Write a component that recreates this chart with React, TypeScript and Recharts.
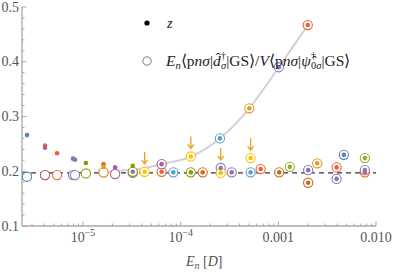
import React from 'react'
import { ScatterChart, Scatter, XAxis, YAxis, ReferenceLine } from 'recharts'

type Pt = { E: number; z: number; r: number }

// axis ranges and ticks
const xDomain = [2.37e-6, 0.01]
const yDomain = [0.1, 0.5]
const xMajorTicks = [1e-5, 1e-4, 1e-3, 1e-2]
const xTickLabels = [['10', '\u22125'], ['10', '\u22124'], ['0.001', ''], ['0.010', '']]
const xMinorTicks = [
  3e-6, 4e-6, 5e-6, 6e-6, 7e-6, 8e-6, 9e-6,
  2e-5, 3e-5, 4e-5, 5e-5, 6e-5, 7e-5, 8e-5, 9e-5,
  2e-4, 3e-4, 4e-4, 5e-4, 6e-4, 7e-4, 8e-4, 9e-4,
  2e-3, 3e-3, 4e-3, 5e-3, 6e-3, 7e-3, 8e-3, 9e-3,
]
const yMajorTicks = [0.1, 0.2, 0.3, 0.4, 0.5]
const yTickLabels = ['0.1', '0.2', '0.3', '0.4', '0.5']
const yMinorTicks = [
  0.12, 0.14, 0.16, 0.18, 0.22, 0.24, 0.26, 0.28,
  0.32, 0.34, 0.36, 0.38, 0.42, 0.44, 0.46, 0.48,
]

const plateau = 0.197

// E, z (filled dot), ratio (open circle)
const blue: Pt[] = [
  { E: 2.67e-6, z: 0.266, r: 0.19 },
  { E: 7.9e-6, z: 0.223, r: 0.193 },
  { E: 4.69e-3, z: 0.23, r: 0.23 },
]
const lightBlue: Pt[] = [
  { E: 8.4e-5, z: 0.198, r: 0.198 },
  { E: 2.52e-4, z: 0.26, r: 0.26 },
  { E: 5.2e-4, z: 0.198, r: 0.198 },
]
const red: Pt[] = [
  { E: 4.08e-6, z: 0.247, r: 0.193 },
  { E: 5.42e-6, z: 0.233, r: 0.193 },
  { E: 1.62e-5, z: 0.213, r: 0.198 },
  { E: 6.38e-5, z: 0.199, r: 0.199 },
  { E: 6.59e-4, z: 0.204, r: 0.204 },
  { E: 2.0e-3, z: 0.467, r: 0.467 },
  { E: 3.95e-3, z: 0.207, r: 0.207 },
  { E: 7.69e-3, z: 0.198, r: 0.198 },
]
const purple: Pt[] = [
  { E: 8.28e-6, z: 0.221, r: 0.193 },
  { E: 3.23e-5, z: 0.199, r: 0.197 },
  { E: 2.57e-4, z: 0.206, r: 0.206 },
  { E: 3.33e-4, z: 0.198, r: 0.198 },
  { E: 1.01e-3, z: 0.39, r: 0.39 },
  { E: 2.02e-3, z: 0.202, r: 0.202 },
  { E: 3.95e-3, z: 0.186, r: 0.186 },
  { E: 7.69e-3, z: 0.202, r: 0.202 },
]
const magenta: Pt[] = [
  { E: 4.08e-6, z: 0.243, r: 0.193 },
  { E: 2.13e-5, z: 0.207, r: 0.195 },
  { E: 6.38e-5, z: 0.213, r: 0.213 },
]
const orange: Pt[] = [
  { E: 1.62e-5, z: 0.208, r: 0.198 },
  { E: 5.04e-4, z: 0.315, r: 0.315 },
  { E: 2.5e-3, z: 0.2145, r: 0.2145 },
]
const olive: Pt[] = [
  { E: 1.07e-5, z: 0.215, r: 0.196 },
  { E: 3.23e-5, z: 0.21, r: 0.199 },
  { E: 1.27e-4, z: 0.198, r: 0.198 },
]
const green: Pt[] = [
  { E: 1.31e-3, z: 0.208, r: 0.208 },
  { E: 7.69e-3, z: 0.224, r: 0.224 },
]
const brown: Pt[] = [
  { E: 1.68e-4, z: 0.198, r: 0.198 },
  { E: 1.02e-3, z: 0.198, r: 0.198 },
  { E: 2.02e-3, z: 0.179, r: 0.179 },
]
const yellow: Pt[] = [
  { E: 4.27e-5, z: 0.199, r: 0.199 },
  { E: 1.27e-4, z: 0.227, r: 0.227 },
  { E: 2.57e-4, z: 0.197, r: 0.197 },
  { E: 5.2e-4, z: 0.224, r: 0.224 },
]

// gray guide curve
const curveE = [1.6e-5, 2.13e-5, 3.2e-5, 4.3e-5, 6.4e-5, 1.27e-4, 2.52e-4, 5.04e-4, 1.01e-3, 2.0e-3]
const curveV = [0.199, 0.2, 0.203, 0.206, 0.213, 0.227, 0.26, 0.315, 0.39, 0.467]

// orange arrows mark these points
const arrowE = [4.27e-5, 1.27e-4, 2.57e-4, 5.2e-4]
const arrowV = [0.199, 0.227, 0.206, 0.224]

const series = [
  { data: blue, color: '#5E81B5' },
  { data: lightBlue, color: '#5D9EC7' },
  { data: red, color: '#EB6235' },
  { data: purple, color: '#8778B3' },
  { data: magenta, color: '#A5609D' },
  { data: orange, color: '#E19C24' },
  { data: olive, color: '#929600' },
  { data: green, color: '#8FB032' },
  { data: brown, color: '#C56E1A' },
  { data: yellow, color: '#FFBF00' },
]

const curve = curveE.map((E, i) => ({ E, v: curveV[i] }))
const arrows = arrowE.map((E, i) => ({ E, v: arrowV[i] }))

const FONT = "'Liberation Serif', 'Times New Roman', serif"
const FRAME = '#a8a8a8'
const LABEL = '#555'

const BottomTick = (props: any) => {
  const { x, y, payload } = props
  const i = xMajorTicks.indexOf(payload.value)
  const len = i >= 0 ? 4.5 : 2.5
  return (
    <g>
      <line x1={x} y1={y} x2={x} y2={y - len} stroke={FRAME} strokeWidth={1} />
      {i >= 0 && (
        <text x={x} y={y + 16} textAnchor="middle" fontFamily={FONT} fontSize={14} fill={LABEL}>
          <tspan>{xTickLabels[i][0]}</tspan>
          {xTickLabels[i][1] && <tspan dy={-6} fontSize={10}>{xTickLabels[i][1]}</tspan>}
        </text>
      )}
    </g>
  )
}

const TopTick = (props: any) => {
  const { x, y, payload } = props
  const len = xMajorTicks.includes(payload.value) ? 4.5 : 2.5
  return <line x1={x} y1={y} x2={x} y2={y + len} stroke={FRAME} strokeWidth={1} />
}

const LeftTick = (props: any) => {
  const { x, y, payload } = props
  const i = yMajorTicks.indexOf(payload.value)
  const len = i >= 0 ? 4.5 : 2.5
  return (
    <g>
      <line x1={x} y1={y} x2={x + len} y2={y} stroke={FRAME} strokeWidth={1} />
      {i >= 0 && (
        <text x={x - 3} y={y + 4.5} textAnchor="end" fontFamily={FONT} fontSize={14} fill={LABEL}>
          {yTickLabels[i]}
        </text>
      )}
    </g>
  )
}

const RightTick = (props: any) => {
  const { x, y, payload } = props
  const len = yMajorTicks.includes(payload.value) ? 4.5 : 2.5
  return <line x1={x} y1={y} x2={x - len} y2={y} stroke={FRAME} strokeWidth={1} />
}

const openCircle = (color: string) => (p: any) => (
  <circle cx={p.cx} cy={p.cy} r={4.6} fill="#fff" stroke={color} strokeWidth={1.1} />
)
const dot = (color: string) => (p: any) => <circle cx={p.cx} cy={p.cy} r={2.3} fill={color} />

const Arrow = (p: any) => (
  <g stroke="#E8A21E" strokeWidth={1.3} fill="none">
    <line x1={p.cx} y1={p.cy - 20} x2={p.cx} y2={p.cy - 8} />
    <polyline points={`${p.cx - 3},${p.cy - 12} ${p.cx},${p.cy - 8} ${p.cx + 3},${p.cy - 12}`} />
  </g>
)

const Empty = () => <g />

export default function App() {
  const xTicks = [...xMajorTicks, ...xMinorTicks].sort((a, b) => a - b)
  const yTicks = [...yMajorTicks, ...yMinorTicks].sort((a, b) => a - b)
  return (
    <div style={{ position: 'absolute', left: 0, top: 0, width: 395, height: 272, fontFamily: FONT }}>
      <ScatterChart width={395} height={272} margin={{ top: 7, right: 19, bottom: 0, left: 0 }}>
        <XAxis
          dataKey="E"
          type="number"
          scale="log"
          domain={xDomain}
          allowDataOverflow
          ticks={xTicks}
          interval={0}
          height={46}
          tickSize={0}
          tickMargin={0}
          tickLine={false}
          axisLine={{ stroke: FRAME, strokeWidth: 1.3 }}
          tick={BottomTick}
        />
        <XAxis
          xAxisId="top"
          orientation="top"
          dataKey="E"
          type="number"
          scale="log"
          domain={xDomain}
          allowDataOverflow
          ticks={xTicks}
          interval={0}
          height={0}
          tickSize={0}
          tickMargin={0}
          tickLine={false}
          axisLine={{ stroke: FRAME, strokeWidth: 1 }}
          tick={TopTick}
        />
        <YAxis
          dataKey="v"
          type="number"
          domain={yDomain}
          allowDataOverflow
          ticks={yTicks}
          interval={0}
          width={22}
          tickSize={0}
          tickMargin={0}
          tickLine={false}
          axisLine={{ stroke: FRAME, strokeWidth: 1.3 }}
          tick={LeftTick}
        />
        <YAxis
          yAxisId="right"
          orientation="right"
          dataKey="v"
          type="number"
          domain={yDomain}
          allowDataOverflow
          ticks={yTicks}
          interval={0}
          width={0}
          tickSize={0}
          tickMargin={0}
          tickLine={false}
          axisLine={{ stroke: FRAME, strokeWidth: 1 }}
          tick={RightTick}
        />
        <Scatter xAxisId="top" yAxisId="right" data={curve} shape={Empty} isAnimationActive={false} />
        <Scatter
          data={curve}
          line={{ stroke: '#d2d2d2', strokeWidth: 2 }}
          lineJointType="monotoneX"
          shape={Empty}
          isAnimationActive={false}
        />
        <ReferenceLine y={plateau} stroke="#333" strokeWidth={1.1} strokeDasharray="5 4" />
        {series.map((s, i) => (
          <Scatter
            key={'c' + i}
            data={s.data.map((d) => ({ E: d.E, v: d.r }))}
            shape={openCircle(s.color)}
            isAnimationActive={false}
          />
        ))}
        {series.map((s, i) => (
          <Scatter
            key={'d' + i}
            data={s.data.map((d) => ({ E: d.E, v: d.z }))}
            shape={dot(s.color)}
            isAnimationActive={false}
          />
        ))}
        <Scatter data={arrows} shape={Arrow} isAnimationActive={false} />
      </ScatterChart>
      <svg
        width={395}
        height={272}
        style={{ position: 'absolute', left: 0, top: 0, pointerEvents: 'none', fontFamily: FONT }}
      >
        <circle cx={147} cy={23} r={2.6} fill="#000" />
        <text x={167} y={28} fontSize={14} fontStyle="italic" fill="#222">z</text>
        <circle cx={147} cy={61} r={4.2} fill="#fff" stroke="#777" strokeWidth={1} />
        <text x={166} y={66} fontSize={15.5} fill="#222">
          <tspan fontStyle="italic">E</tspan>
          <tspan fontStyle="italic" fontSize={10.5} dy={3}>n</tspan>
          <tspan dy={-3}>{'\u27E8p'}</tspan>
          <tspan fontStyle="italic">{'n\u03C3'}</tspan>
          <tspan>|</tspan>
          <tspan fontStyle="italic">{'d\u0302'}</tspan>
          <tspan fontSize={10.5} dy={-7}>{'\u2020'}</tspan>
          <tspan fontSize={10.5} fontStyle="italic" dx={-5} dy={10}>{'\u03C3'}</tspan>
          <tspan dy={-3}>{'|GS\u27E9/'}</tspan>
          <tspan fontStyle="italic">V</tspan>
          <tspan>{'\u27E8p'}</tspan>
          <tspan fontStyle="italic">{'n\u03C3'}</tspan>
          <tspan>|</tspan>
          <tspan fontStyle="italic">{'\u03C8\u0302'}</tspan>
          <tspan fontSize={10.5} dy={-7}>{'\u2020'}</tspan>
          <tspan fontSize={10.5} dx={-5} dy={10}>0</tspan>
          <tspan fontSize={10.5} fontStyle="italic">{'\u03C3'}</tspan>
          <tspan dy={-3}>{'|GS\u27E9'}</tspan>
        </text>
        <text x={186} y={266} fontSize={14} fill={LABEL}>
          <tspan fontStyle="italic">E</tspan>
          <tspan fontStyle="italic" fontSize={10} dy={3}>n</tspan>
          <tspan dy={-3}>{'  ['}</tspan>
          <tspan fontStyle="italic">D</tspan>
          <tspan>]</tspan>
        </text>
      </svg>
    </div>
  )
}
